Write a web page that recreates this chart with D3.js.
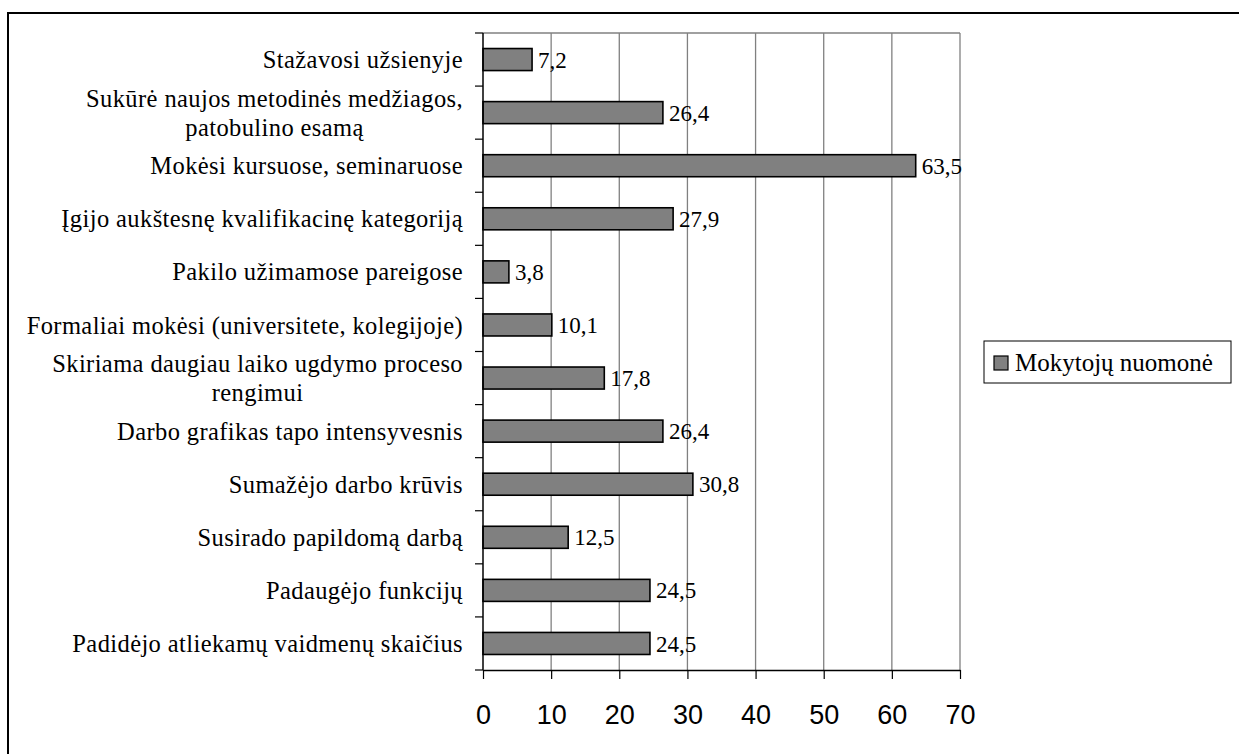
<!DOCTYPE html>
<html>
<head>
<meta charset="utf-8">
<script src="https://cdn.jsdelivr.net/npm/d3@7"></script>
<style>
  html, body { margin: 0; padding: 0; background: #fff; }
  #chart { width: 1239px; height: 754px; }
  .serif { font-family: "Liberation Serif", "Times New Roman", Times, "DejaVu Serif", "Noto Serif", Tinos, FreeSerif, "Nimbus Roman", "Nimbus Roman No9 L", serif; }
  .sans { font-family: "Liberation Sans", Arial, Helvetica, sans-serif; }
</style>
</head>
<body>
<div id="chart"></div>
<script>
// kategorijos (eilutėmis, kaip originale)
const categories = [
  ["Stažavosi užsienyje"],
  ["Sukūrė naujos metodinės medžiagos,", "patobulino esamą"],
  ["Mokėsi kursuose, seminaruose"],
  ["Įgijo aukštesnę kvalifikacinę kategoriją"],
  ["Pakilo užimamose pareigose"],
  ["Formaliai mokėsi (universitete, kolegijoje)"],
  ["Skiriama daugiau laiko ugdymo proceso", "rengimui"],
  ["Darbo grafikas tapo intensyvesnis"],
  ["Sumažėjo darbo krūvis"],
  ["Susirado papildomą darbą"],
  ["Padaugėjo funkcijų"],
  ["Padidėjo atliekamų vaidmenų skaičius"]
];
const values = [7.2, 26.4, 63.5, 27.9, 3.8, 10.1, 17.8, 26.4, 30.8, 12.5, 24.5, 24.5];
const xTicks = [0, 10, 20, 30, 40, 50, 60, 70];
const seriesName = "Mokytojų nuomonė";

const W = 1239, H = 754;

const rows = categories.map((c, i) => ({ key: c.join(" "), lines: c, v: values[i] }));

const svg = d3.select("#chart").append("svg")
  .attr("width", W).attr("height", H);

// išorinis rėmelis
svg.append("rect")
  .attr("x", 8).attr("y", 13)
  .attr("width", W + 20).attr("height", H + 20)
  .attr("fill", "none").attr("stroke", "#000").attr("stroke-width", 2);

const plot = { left: 483, right: 960, top: 33, bottom: 670 };

const x = d3.scaleLinear().domain([0, 70]).range([plot.left, plot.right]);
const y = d3.scaleBand()
  .domain(rows.map((d) => d.key))
  .range([plot.top, plot.bottom])
  .paddingInner(0.585)
  .paddingOuter(0.2925);

// tinklelis
svg.append("g")
  .selectAll("line")
  .data(xTicks.filter((t) => t > 0))
  .join("line")
  .attr("x1", (t) => x(t)).attr("x2", (t) => x(t))
  .attr("y1", plot.top).attr("y2", plot.bottom)
  .attr("stroke", "#808080").attr("stroke-width", 1.3);

svg.append("line")
  .attr("x1", plot.left).attr("x2", plot.right)
  .attr("y1", plot.top).attr("y2", plot.top)
  .attr("stroke", "#808080").attr("stroke-width", 1.3);

// stulpeliai
svg.append("g")
  .selectAll("rect")
  .data(rows)
  .join("rect")
  .attr("x", x(0))
  .attr("y", (d) => y(d.key))
  .attr("width", (d) => x(d.v) - x(0))
  .attr("height", y.bandwidth())
  .attr("fill", "#808080")
  .attr("stroke", "#000")
  .attr("stroke-width", 1.6);

// reikšmės
svg.append("g")
  .selectAll("text")
  .data(rows)
  .join("text")
  .attr("class", "serif")
  .attr("x", (d) => x(d.v) + 6)
  .attr("y", (d) => y(d.key) + y.bandwidth() / 2)
  .attr("dy", "0.35em")
  .style("font-size", "23px")
  .text((d) => String(d.v).replace(".", ","));

// Y ašis
const step = y.step();
svg.append("line")
  .attr("x1", plot.left).attr("x2", plot.left)
  .attr("y1", plot.top).attr("y2", plot.bottom)
  .attr("stroke", "#000").attr("stroke-width", 1.5);
svg.append("g")
  .selectAll("line")
  .data(d3.range(rows.length + 1))
  .join("line")
  .attr("x1", plot.left - 8).attr("x2", plot.left)
  .attr("y1", (k) => plot.top + k * step)
  .attr("y2", (k) => plot.top + k * step)
  .attr("stroke", "#000").attr("stroke-width", 1.2);

// kategorijų pavadinimai
const labelRight = plot.left - 20;
const lab = svg.append("g")
  .selectAll("text")
  .data(rows)
  .join("text")
  .attr("class", "serif")
  .style("font-size", "24.5px")
  .style("letter-spacing", "0.4px")
  .attr("fill", "#000");

lab.each(function (d) {
  const t = d3.select(this);
  const cy = y(d.key) + y.bandwidth() / 2;
  if (d.lines.length === 1) {
    t.attr("x", labelRight).attr("y", cy).attr("dy", "0.35em")
      .attr("text-anchor", "end").text(d.lines[0]);
  } else {
    // dviejų eilučių pavadinimas: blokas prie dešinės, eilutės centruotos
    t.attr("text-anchor", "end").attr("x", labelRight).attr("y", cy)
      .text(d.lines[0]);
    const w = this.getComputedTextLength();
    const mid = labelRight - w / 2;
    t.text(null);
    t.attr("text-anchor", "middle");
    d.lines.forEach((ln, i) => {
      t.append("tspan")
        .attr("x", mid)
        .attr("y", cy - 14.5 + i * 29)
        .attr("dy", "0.35em")
        .text(ln);
    });
  }
});

// X ašis
const xAxis = d3.axisBottom(x).tickValues(xTicks).tickSize(9).tickSizeOuter(0);
const gx = svg.append("g")
  .attr("transform", `translate(0,${plot.bottom})`)
  .call(xAxis);
gx.select(".domain").attr("stroke", "#000").attr("stroke-width", 1.5);
gx.selectAll(".tick line").attr("stroke", "#000").attr("stroke-width", 1.2);
gx.selectAll(".tick text")
  .attr("class", "sans")
  .attr("y", 45)
  .attr("dy", "0.35em")
  .style("font-size", "27px")
  .attr("fill", "#000");

// legenda
const lg = svg.append("g").attr("transform", "translate(984,341)");
lg.append("rect")
  .attr("width", 247).attr("height", 42)
  .attr("fill", "#fff").attr("stroke", "#000").attr("stroke-width", 1);
lg.append("rect")
  .attr("x", 10).attr("y", 15).attr("width", 14).attr("height", 14)
  .attr("fill", "#808080").attr("stroke", "#000").attr("stroke-width", 1.2);
lg.append("text")
  .attr("class", "serif")
  .attr("x", 31).attr("y", 21).attr("dy", "0.35em")
  .style("font-size", "25px")
  .text(seriesName);
</script>
</body>
</html>
